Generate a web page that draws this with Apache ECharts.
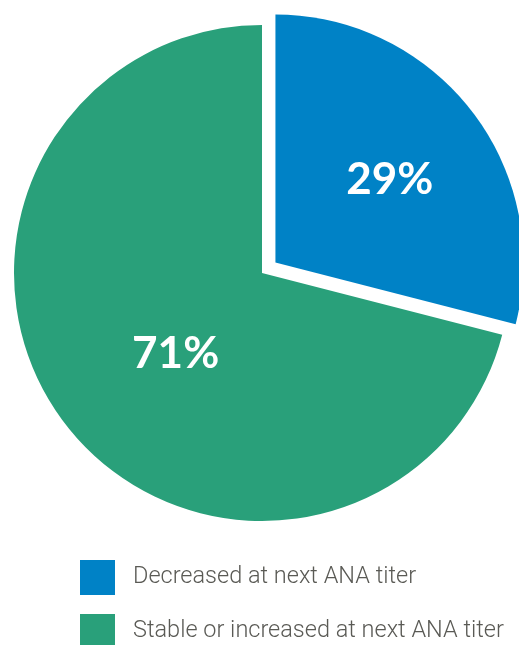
<!DOCTYPE html>
<html><head><meta charset="utf-8">
<script src="https://cdn.jsdelivr.net/npm/echarts@6/dist/echarts.min.js"></script>
<style>html,body{margin:0;padding:0;background:#fff}#c{width:519px;height:645px}</style>
</head><body><div id="c"></div>
<script>
const categories = ["Decreased at next ANA titer", "Stable or increased at next ANA titer"];
const values = [29, 71];
const colors = ["#0082C6", "#29A07A"];
const labelOffsets = [[14, -5], [14, 3]];
const legendTops = [560, 614];

const chart = echarts.init(document.getElementById('c'), null, {renderer: 'canvas'});
chart.setOption({
  animation: false,
  legend: categories.map((n, i) => ({
    orient: 'vertical', left: 80, top: legendTops[i], padding: 0,
    itemWidth: 35, itemHeight: 35, itemGap: 18,
    icon: 'rect',
    selectedMode: false,
    textStyle: {fontFamily: 'Roboto', fontWeight: 300, fontSize: 23.5, color: '#5a5a55', padding: [0, 0, 0, 13]},
    data: [n]
  })),
  series: [{
    type: 'pie',
    center: [262, 273],
    radius: [0, 248],
    startAngle: 90,
    clockwise: true,
    selectedMode: 'multiple',
    selectedOffset: 17,
    avoidLabelOverlap: false,
    label: {
      show: true, position: 'inside',
      formatter: '{c}%',
      color: '#fff', fontFamily: 'Lato', fontWeight: 'bold', fontSize: 44
    },
    labelLine: {show: false},
    emphasis: {disabled: true},
    data: categories.map((n, i) => ({
      name: n, value: values[i], selected: i === 0,
      itemStyle: {color: colors[i]},
      label: {offset: labelOffsets[i]},
      select: {label: {offset: labelOffsets[i]}, itemStyle: {color: colors[i]}}
    }))
  }]
});
</script></body></html>
